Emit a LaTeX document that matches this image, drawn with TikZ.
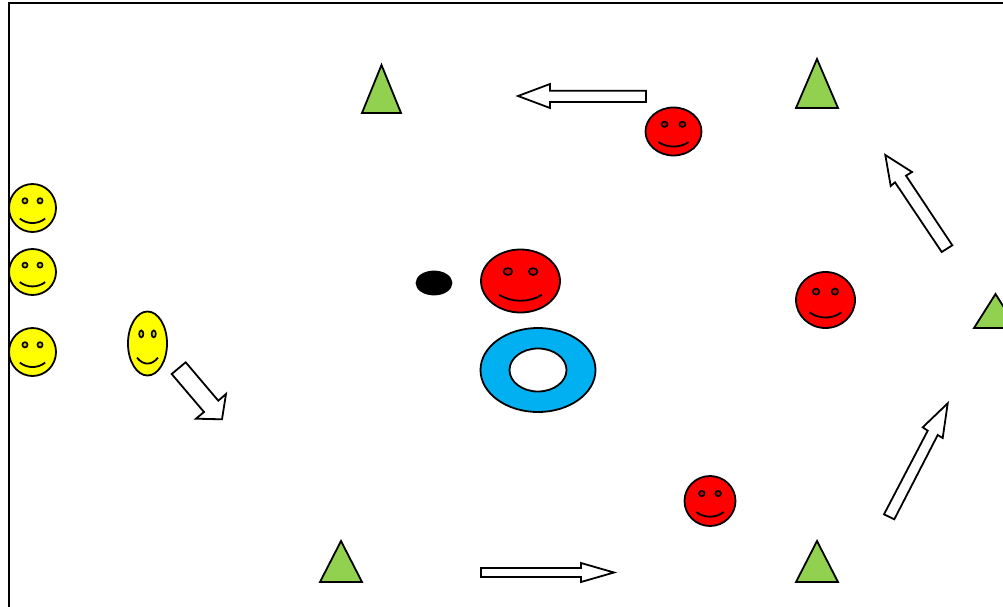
\documentclass[tikz,border=0pt]{standalone}
\usepackage{xcolor}
\definecolor{facey}{RGB}{255,255,0}
\definecolor{facer}{RGB}{255,0,0}
\definecolor{conegreen}{RGB}{146,208,80}
\definecolor{ringblue}{RGB}{0,176,240}
\tikzset{
  outline/.style={draw=black, line width=1.8pt, line join=miter},
  flowarrow/.style={outline, fill=white},
  cone/.style={outline, fill=conegreen},
}
% center x, center y, radius x, radius y, colour
\newcommand{\smiley}[5]{
  \draw[outline, fill=#5] (#1,#2) ellipse ({#3} and {#4});
  \draw[line width=1.6pt, fill=#5!80!black] ({#1-0.32*#3},{#2-0.30*#4}) ellipse ({0.11*#3} and {0.11*#4});
  \draw[line width=1.6pt, fill=#5!80!black] ({#1+0.32*#3},{#2-0.30*#4}) ellipse ({0.11*#3} and {0.11*#4});
  \draw[line width=1.8pt] ({#1-0.54*#3},{#2+0.44*#4}) .. controls ({#1-0.22*#3},{#2+0.69*#4}) and ({#1+0.22*#3},{#2+0.69*#4}) .. ({#1+0.54*#3},{#2+0.44*#4});
}
\begin{document}
\begin{tikzpicture}[x=1pt, y=-1pt]
  \clip (0,0) rectangle (1003,607);
  % Frame
  \draw[line width=1.8pt] (1003,3) -- (9,3) -- (9,607);
  % Cones
  \draw[cone] (381.5,65) -- (401,113) -- (362,113) -- cycle;
  \draw[cone] (817,59) -- (838,108) -- (796,108) -- cycle;
  \draw[cone] (995.5,294) -- (1017,328) -- (974,328) -- cycle;
  \draw[cone] (341,541) -- (362,582) -- (320,582) -- cycle;
  \draw[cone] (817,541) -- (838,582) -- (796,582) -- cycle;
  % Yellow team
  \smiley{32.5}{208}{23.5}{24}{facey}
  \smiley{32.5}{272}{23.5}{23}{facey}
  \smiley{32.5}{352}{23.5}{24}{facey}
  \smiley{147.5}{343.5}{19.5}{32}{facey}
  % Red team
  \smiley{673.5}{131.5}{28}{24}{facer}
  \smiley{520.5}{281}{39.5}{31.5}{facer}
  \smiley{825.5}{300}{29.5}{28}{facer}
  \smiley{710}{501}{25.5}{25}{facer}
  % Ball and ring
  \draw[outline, fill=black] (434,283) ellipse (17.5 and 11.5);
  \draw[outline, fill=ringblue] (538,370) ellipse (57.5 and 42);
  \draw[outline, fill=white] (538,370) ellipse (28.5 and 21.5);
  % Arrows
  \draw[flowarrow] (518,96) -- (550,84) -- (550,90.7) -- (646,90.7) -- (646,102) -- (550,102) -- (550,108) -- cycle;
  \draw[flowarrow] (885.3,155) -- (912,172) -- (906,175.7) -- (952.3,245.3) -- (941.7,252) -- (895,182.3) -- (890.7,186) -- cycle;
  \draw[flowarrow] (947.7,403.3) -- (942.7,438) -- (937.7,435) -- (894.3,519.3) -- (884,514.3) -- (927.7,430.7) -- (922.7,427.3) -- cycle;
  \draw[flowarrow] (614,572.5) -- (581,582) -- (581,577) -- (481,577) -- (481,568) -- (581,568) -- (581,563) -- cycle;
  \draw[flowarrow] (222,419.3) -- (196,418.7) -- (204,412) -- (171.7,374) -- (185.7,362.3) -- (218.3,400.7) -- (226,394) -- cycle;
\end{tikzpicture}
\end{document}
